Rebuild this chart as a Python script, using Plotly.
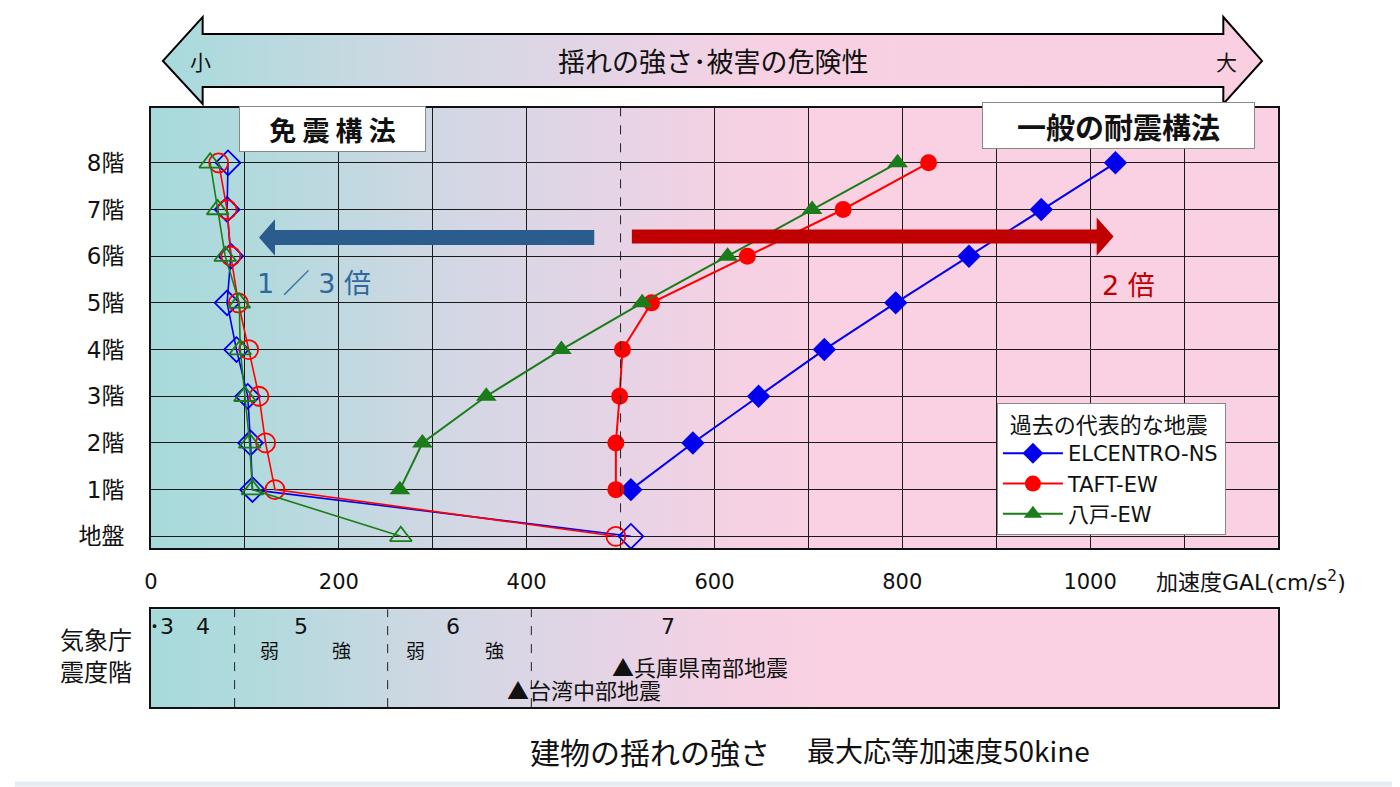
import base64
import plotly.graph_objects as go

W, H = 1400, 787
OFF = 8  # the page body margin shifts the figure by this many pixels

# --- data -------------------------------------------------------------
floors = [0, 1, 2, 3, 4, 5, 6, 7, 8]
floor_labels = ["地盤", "1階", "2階", "3階", "4階", "5階", "6階", "7階", "8階"]

# 一般の耐震構法 (1階-8階)
elcentro = [511, 577, 647, 717, 793, 871, 948, 1027]
taft = [495, 495, 499, 502, 533, 635, 737, 828]
hachinohe = [265, 289, 357, 437, 523, 614, 704, 795]

# 免震構法 (地盤-8階)
elcentro_iso = [511, 108, 106, 103, 91, 81, 85, 81, 82]
taft_iso = [495, 132, 122, 115, 104, 93, 85, 81, 72]
hachinohe_iso = [266, 108, 105, 100, 95, 94, 79, 71, 63]

x_ticks = [0, 100, 200, 300, 400, 600, 700, 800, 900, 1000, 1100, 1200]
x_labels = ["0", " ", "200", " ", "400", "600", " ", "800", " ", "1000", " ", " "]

# 気象庁震度階の境界 (gal)
shindo_bounds = [89, 252, 405]

# --- geometry (screen pixels) -----------------------------------------
PL, PR, PT, PB = 145, 1280, 108, 549      # main plot
ST, SB = 610, 708                         # shindo strip
XMAX = 1200
YMIN = -(PB - 537) / 46.75
YMAX = 8 + (163 - PT) / 46.75

FONT = "DejaVu Sans, Noto Sans CJK JP"
CJK = "Noto Sans CJK JP"
NB = "\u00a0"


def px(x):
    return (x - OFF) / W


def py(y):
    return 1 - (y - OFF) / H


def gradient(gid, stops):
    s = "".join(f'<stop offset="{o}" stop-color="{c}"/>' for o, c in stops)
    return f'<linearGradient id="{gid}" x1="0" y1="0" x2="1" y2="0">{s}</linearGradient>'


plot_stops = [(0, "#a7dadc"), (0.1, "#b3dadd"), (0.27, "#d3d7e4"),
              (0.4, "#e4d4e6"), (0.52, "#f5d1e3"), (0.6, "#f9d1e2"), (1, "#fad1e2")]
arrow_stops = [(0, "#a7dbdb"), (0.06, "#b2dadd"), (0.25, "#d3d8e3"),
               (0.42, "#e6d4e6"), (0.55, "#f7d1e3"), (1, "#f9cfe1")]

svg = (
    f'<svg xmlns="http://www.w3.org/2000/svg" width="{W}" height="{H}" viewBox="0 0 {W} {H}" preserveAspectRatio="none">'
    f'<defs>{gradient("gp", plot_stops)}{gradient("ga", arrow_stops)}</defs>'
    f'<g transform="translate({-OFF},{-OFF})">'
    f'<rect x="2" y="2" width="{W-4}" height="{H-4}" fill="none" stroke="#e3ebf5" stroke-width="5"/>'
    '<polygon points="157,61 197,17 197,34 1225,34 1225,17 1264,61 1225,104 1225,87 197,87 197,104" '
    'fill="url(#ga)" stroke="#000" stroke-width="2"/>'
    f'<rect x="{PL}" y="{PT}" width="{PR-PL}" height="{PB-PT}" fill="url(#gp)"/>'
    f'<rect x="{PL}" y="{ST}" width="{PR-PL}" height="{SB-ST}" fill="url(#gp)"/>'
    '</g></svg>'
)
svg_uri = "data:image/svg+xml;base64," + base64.b64encode(svg.encode("utf-8")).decode()

fig = go.Figure()

# 免震構法 (open markers)
iso = [
    (elcentro_iso, "#0000ee", "diamond-open", 19),
    (taft_iso, "#ff0000", "circle-open", 19),
    (hachinohe_iso, "#1a7d1a", "triangle-up-open", 19),
]
for xs, col, sym, sz in iso:
    fig.add_trace(go.Scatter(
        x=xs, y=floors, mode="lines+markers", showlegend=False, hoverinfo="skip",
        line=dict(color=col, width=1.6),
        marker=dict(symbol=sym, size=sz, color=col, line=dict(width=1.8, color=col)),
    ))

# 一般の耐震構法 (filled markers)
normal = [
    ("ELCENTRO-NS", elcentro, "#0000ee", "diamond", 18),
    ("TAFT-EW", taft, "#ff0000", "circle", 17),
    ("八戸-EW", hachinohe, "#1a7d1a", "triangle-up", 18),
]
for name, xs, col, sym, sz in normal:
    fig.add_trace(go.Scatter(
        x=xs, y=floors[1:], mode="lines+markers", name=name,
        line=dict(color=col, width=2),
        marker=dict(symbol=sym, size=sz, color=col),
    ))

shapes = []
# 500 gal dashed line
shapes.append(dict(type="line", xref="x", yref="y domain", x0=500, x1=500, y0=0, y1=1,
                   line=dict(color="#222", width=1, dash="dash"), layer="above"))
# shindo boundaries
for b in shindo_bounds:
    shapes.append(dict(type="line", xref="x2", yref="y2 domain", x0=b, x1=b, y0=0, y1=1,
                       line=dict(color="#222", width=1, dash="dash"), layer="above"))


# big arrows (data coords)
def arrow_path(x_tail, x_back, x_tip, yc, hb, hh):
    return (f"M {x_tail},{yc-hb} L {x_back},{yc-hb} L {x_back},{yc-hh} L {x_tip},{yc} "
            f"L {x_back},{yc+hh} L {x_back},{yc+hb} L {x_tail},{yc+hb} Z")


shapes.append(dict(type="path", xref="x", yref="y",
                   path=arrow_path(472, 132, 115, 6.4, 0.16, 0.39),
                   fillcolor="#2b5c8e", line=dict(width=0), layer="above"))
shapes.append(dict(type="path", xref="x", yref="y",
                   path=arrow_path(512, 1007, 1025, 6.42, 0.15, 0.41),
                   fillcolor="#c00000", line=dict(width=0), layer="above"))

annotations = []


def ann(text, x, y, size, color="#111", xanchor="center", font=FONT, **kw):
    annotations.append(dict(text=text, x=px(x), y=py(y), xref="paper", yref="paper",
                            xanchor=xanchor, yanchor="middle", showarrow=False,
                            font=dict(family=font, size=size, color=color), **kw))


# top arrow text
ann("小", 195, 61, 21, font=CJK)
ann("揺れの強さ･被害の危険性", 712, 61, 27, font=CJK)
ann("大", 1228, 61, 21, font=CJK)

# method boxes
ann("<b>免 震 構 法</b>", 328, 129, 27, font=CJK, bgcolor="white",
    bordercolor="#888", borderwidth=1, width=183, height=42)
ann("<b>一般の耐震構法</b>", 1119, 126, 29, font=CJK, bgcolor="white",
    bordercolor="#888", borderwidth=1, width=269, height=43)

# ratio labels
annotations.append(dict(text="1 ／ 3 倍", x=174, y=5.41, xref="x", yref="y", showarrow=False,
                        font=dict(family=FONT, size=27, color="#2f689c")))
annotations.append(dict(text="2 倍", x=1041, y=5.37, xref="x", yref="y", showarrow=False,
                        font=dict(family=FONT, size=27, color="#c00000")))

# axis title
ann("加速度GAL(cm/s<sup>2</sup>)", 1155, 582, 22, xanchor="left")

# shindo strip labels
ann("気象庁", 90, 639, 24, font=CJK)
ann("震度階", 90, 671, 24, font=CJK)

shindo_text = [("･3", 11, 0.827, 22), ("4", 55, 0.827, 22), ("5", 160, 0.827, 22),
               ("弱", 126, 0.571, 19), ("強", 203, 0.571, 19), ("6", 322, 0.827, 22),
               ("弱", 282, 0.571, 19), ("強", 366, 0.571, 19), ("7", 551, 0.827, 22)]
for t, x, y, s in shindo_text:
    annotations.append(dict(text=t, x=x, y=y, xref="x2", yref="y2", showarrow=False,
                            font=dict(family=FONT, size=s, color="#111")))

quakes = [("▲兵庫県南部地震", 489, 0.418), ("▲台湾中部地震", 377, 0.184)]
for t, x, y in quakes:
    annotations.append(dict(text=t, x=x, y=y, xref="x2", yref="y2", xanchor="left",
                            showarrow=False, font=dict(family=CJK, size=22, color="#111")))

# caption
ann("建物の揺れの強さ", 525, 752, 30, xanchor="left", font=CJK)
ann("最大応等加速度50kine", 804, 751, 28, xanchor="left", font=CJK)

fig.update_layout(
    width=W, height=H,
    margin=dict(l=0, r=0, t=0, b=0),
    paper_bgcolor="white",
    plot_bgcolor="rgba(0,0,0,0)",
    font=dict(family=FONT, size=21, color="#111"),
    xaxis=dict(domain=[px(PL), px(PR)], range=[0, XMAX], tickvals=x_ticks, ticktext=x_labels,
               showgrid=True, gridcolor="#1a1a1a", gridwidth=1.2, zeroline=False,
               showline=True, mirror=True, linecolor="#111", linewidth=2,
               ticks="", ticklabelstandoff=13, tickfont=dict(size=21), anchor="y"),
    yaxis=dict(domain=[py(PB), py(PT)], range=[YMIN, YMAX], tickvals=floors, ticktext=floor_labels,
               showgrid=True, gridcolor="#1a1a1a", gridwidth=1.2, zeroline=False,
               showline=True, mirror=True, linecolor="#111", linewidth=2,
               ticks="", ticklabelstandoff=20, tickfont=dict(size=23), anchor="x"),
    xaxis2=dict(domain=[px(PL), px(PR)], range=[0, XMAX], showgrid=False, zeroline=False,
                showticklabels=False, showline=True, mirror=True, linecolor="#111",
                linewidth=2, anchor="y2"),
    yaxis2=dict(domain=[py(SB), py(ST)], range=[0, 1], showgrid=False, zeroline=False,
                showticklabels=False, showline=True, mirror=True, linecolor="#111",
                linewidth=2, anchor="x2"),
    legend=dict(x=px(997), y=py(404), xanchor="left", yanchor="top",
                bgcolor="white", bordercolor="#888", borderwidth=1,
                title=dict(text=NB * 2 + "過去の代表的な地震" + NB * 3,
                           font=dict(family=CJK, size=22)),
                font=dict(family=FONT, size=21), itemwidth=60, tracegroupgap=0),
    shapes=shapes,
    annotations=annotations,
    images=[dict(source=svg_uri, xref="paper", yref="paper", x=0, y=1, sizex=1, sizey=1,
                 xanchor="left", yanchor="top", sizing="stretch", layer="below")],
)

fig.write_html("out.html")
